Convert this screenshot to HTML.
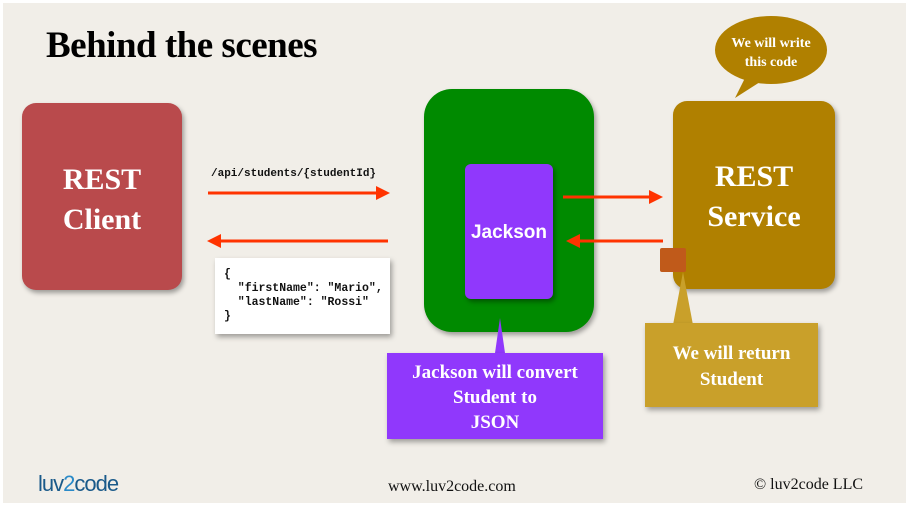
<!DOCTYPE html>
<html><head><meta charset="utf-8"><style>
body{margin:0;width:911px;height:508px;overflow:hidden;background:#fff}
.bg{position:absolute;left:3px;top:3px;width:903px;height:500px;background:#f1eee8}
.a{position:absolute}
.serif{font-family:"Liberation Serif",serif}
.box{position:absolute;box-shadow:2px 3px 5px rgba(0,0,0,.35)}
.wt{color:#fff;font-family:"Liberation Serif",serif;font-weight:bold;text-align:center}
</style></head><body>
<div class="bg"></div>
<div class="a serif" style="left:46px;top:24px;font-size:37px;font-weight:bold;color:#000;letter-spacing:-0.5px">Behind the scenes</div>

<div class="box" style="left:22px;top:103px;width:160px;height:187px;background:#b94a4c;border-radius:14px"></div>
<div class="a wt" style="left:22px;top:160px;width:160px;font-size:30px;line-height:40px">REST<br>Client</div>

<div class="box" style="left:424px;top:89px;width:170px;height:243px;background:#008a00;border-radius:28px"></div>
<div class="box" style="left:465px;top:164px;width:88px;height:135px;background:#9038fc;border-radius:6px"></div>
<div class="a" style="left:465px;top:222px;width:88px;text-align:center;color:#fff;font:bold 19px 'Liberation Sans',sans-serif">Jackson</div>

<div class="box" style="left:673px;top:101px;width:162px;height:188px;background:#b08000;border-radius:14px"></div>
<div class="a wt" style="left:673px;top:157px;width:162px;font-size:30px;line-height:40px">REST<br>Service</div>

<svg class="a" style="left:0;top:0" width="911" height="508">
<ellipse cx="771" cy="50" rx="56" ry="34" fill="#b08000"/>
<polygon points="745,78 760,82 735,98" fill="#b08000"/>
<polygon points="495,353 505,353 500,318" fill="#9038fc"/>
<polygon points="673,325 693,325 683,272" fill="#c9a02a"/>
<g stroke="#ff3300" stroke-width="3" fill="#ff3300">
<line x1="208" y1="193" x2="378" y2="193"/><polygon points="390,193 376,186 376,200" stroke="none"/>
<line x1="220" y1="241" x2="388" y2="241"/><polygon points="207,241 221,234 221,248" stroke="none"/>
<line x1="563" y1="197" x2="651" y2="197"/><polygon points="663,197 649,190 649,204" stroke="none"/>
<line x1="578" y1="241" x2="663" y2="241"/><polygon points="566,241 580,234 580,248" stroke="none"/>
</g>
</svg>
<div class="a wt" style="left:715px;top:34px;width:112px;font-size:14px;line-height:19px">We will write<br>this code</div>
<div class="a" style="left:660px;top:248px;width:26px;height:24px;background:#c05a1a;border-radius:2px"></div>

<div class="a" style="left:211px;top:168px;font:bold 11px 'Liberation Mono',monospace;color:#111">/api/students/{studentId}</div>

<div class="box" style="left:215px;top:258px;width:175px;height:76px;background:#fff"></div>
<div class="a" style="left:224px;top:268px;font:bold 11.5px/14px 'Liberation Mono',monospace;color:#111;white-space:pre">{
  "firstName": "Mario",
  "lastName": "Rossi"
}</div>

<div class="box" style="left:387px;top:353px;width:216px;height:86px;background:#9038fc"></div>
<div class="a wt" style="left:387px;top:360px;width:216px;font-size:19px;line-height:25px">Jackson will convert<br>Student to<br>JSON</div>

<div class="box" style="left:645px;top:323px;width:173px;height:84px;background:#c9a02a"></div>
<div class="a wt" style="left:645px;top:341px;width:173px;font-size:19px;line-height:26px">We will return<br>Student</div>

<div class="a" style="left:38px;top:471px;font:22px 'Liberation Sans',sans-serif;color:#1a5a8a;letter-spacing:-1px">luv<span style="color:#2a8ac8">2</span>code</div>
<div class="a serif" style="left:388px;top:478px;font-size:16px;color:#111">www.luv2code.com</div>
<div class="a serif" style="left:754px;top:476px;font-size:16px;color:#111">© luv2code LLC</div>
</body></html>
